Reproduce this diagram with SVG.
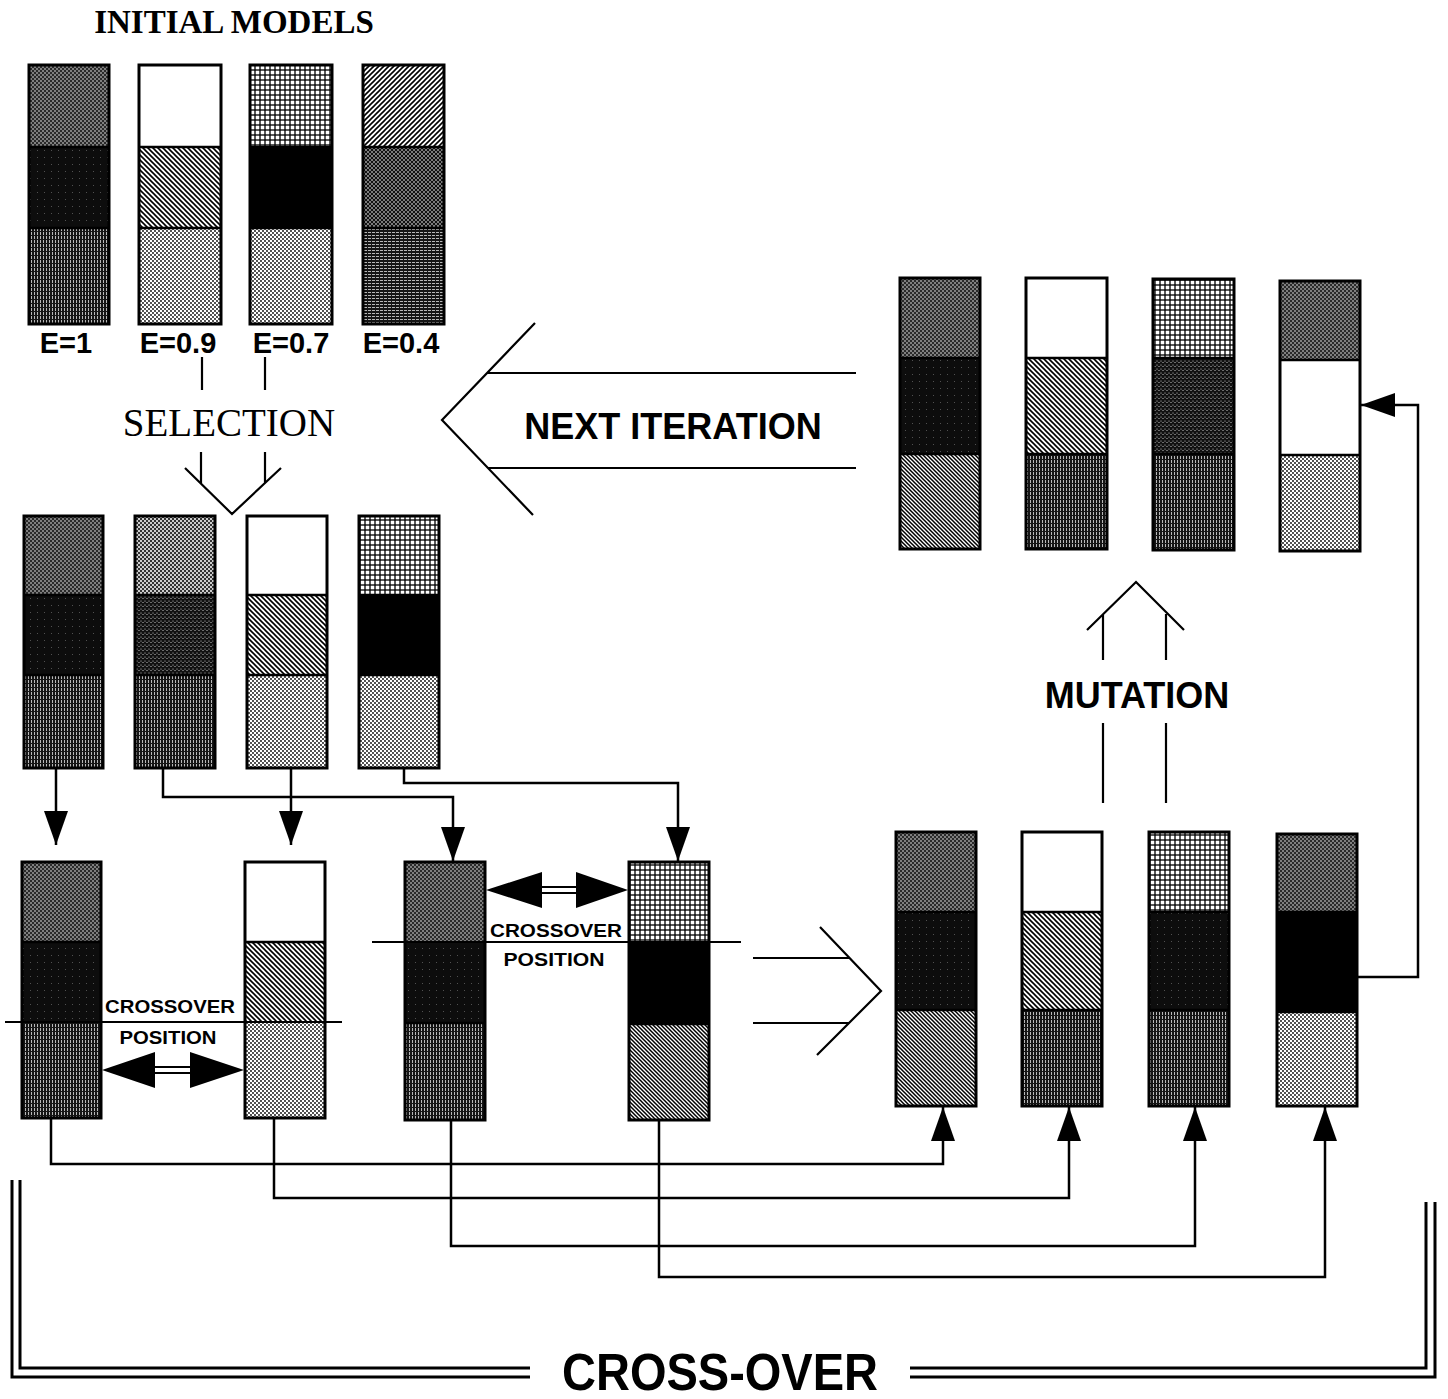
<svg xmlns="http://www.w3.org/2000/svg" width="1448" height="1399" viewBox="0 0 1448 1399">
<style>
.ol{fill:none;stroke:#000;stroke-width:3}
.dv{stroke:#000;stroke-width:2.5}
.cn{fill:none;stroke:#000;stroke-width:2.5}
.ln{fill:none;stroke:#000;stroke-width:2.2}
.br{fill:none;stroke:#000;stroke-width:3}
.sans{font-family:"Liberation Sans",Arial,sans-serif;font-weight:bold;fill:#000}
.serif{font-family:"Liberation Serif","Times New Roman",serif;fill:#000}
</style>
<defs>
<pattern id="pA" width="4" height="4" patternUnits="userSpaceOnUse"><rect width="4" height="4" fill="#2a2a2a"/><circle cx="1" cy="1" r="0.75" fill="#fff"/><circle cx="3" cy="3" r="0.75" fill="#fff"/></pattern>
<pattern id="pDM" width="4" height="4" patternUnits="userSpaceOnUse"><rect width="4" height="4" fill="#333"/><circle cx="1" cy="1" r="1" fill="#fff"/><circle cx="3" cy="3" r="1" fill="#fff"/></pattern>
<pattern id="pB" width="7" height="7" patternUnits="userSpaceOnUse"><rect width="7" height="7" fill="#0d0d0d"/><rect x="2" y="3" width="0.8" height="0.8" fill="#777"/></pattern>
<pattern id="pSP" width="4" height="4" patternUnits="userSpaceOnUse"><rect width="4" height="4" fill="#111"/><circle cx="1" cy="1" r="0.5" fill="#fff"/><circle cx="3" cy="2.6" r="0.5" fill="#fff"/></pattern>
<pattern id="pC" width="3" height="4" patternUnits="userSpaceOnUse"><rect width="3" height="4" fill="#151515"/><rect x="1" y="0" width="0.7" height="3" fill="#fff"/></pattern>
<pattern id="pHL" width="4" height="3" patternUnits="userSpaceOnUse"><rect width="4" height="3" fill="#151515"/><rect x="0" y="1" width="3" height="0.7" fill="#fff"/></pattern>
<pattern id="pHB" width="5" height="5" patternUnits="userSpaceOnUse"><rect width="5" height="5" fill="#fff"/><path d="M0,0L5,5M-1,4L1,6M4,-1L6,1" stroke="#000" stroke-width="1.6"/></pattern>
<pattern id="pHF" width="5" height="5" patternUnits="userSpaceOnUse"><rect width="5" height="5" fill="#fff"/><path d="M0,5L5,0M-1,1L1,-1M4,6L6,4" stroke="#000" stroke-width="1.6"/></pattern>
<pattern id="pHD" width="4" height="4" patternUnits="userSpaceOnUse"><rect width="4" height="4" fill="#fff"/><path d="M0,0L4,4M-1,3L1,5M3,-1L5,1" stroke="#000" stroke-width="1.5"/></pattern>
<pattern id="pDL" width="4" height="4" patternUnits="userSpaceOnUse"><rect width="4" height="4" fill="#fff"/><circle cx="1" cy="1" r="0.9" fill="#000"/><circle cx="3" cy="3" r="0.9" fill="#000"/></pattern>
<pattern id="pG" width="5" height="5" patternUnits="userSpaceOnUse"><rect width="5" height="5" fill="#000"/><rect x="0.65" y="0.65" width="3.7" height="3.7" fill="#fff"/></pattern>
<pattern id="pCD" width="4" height="4" patternUnits="userSpaceOnUse"><rect width="4" height="4" fill="#111"/><path d="M0,0L4,4M0,4L4,0" stroke="#fff" stroke-width="0.45"/></pattern>
<marker id="ah" markerUnits="userSpaceOnUse" markerWidth="34" markerHeight="24" refX="34" refY="12" orient="auto" viewBox="0 0 34 24"><path d="M0,0L34,12L0,24z" fill="#000"/></marker>
</defs>
<rect width="1448" height="1399" fill="#fff"/>

<text class="serif" x="234" y="33" font-size="33" font-weight="bold" text-anchor="middle">INITIAL MODELS</text>

<!-- Row 1: initial models -->
<g id="m1"><rect x="29" y="65" width="80" height="82" fill="url(#pA)"/><rect x="29" y="147" width="80" height="81" fill="url(#pB)"/><rect x="29" y="228" width="80" height="96" fill="url(#pC)"/><path class="dv" d="M29,147H109M29,228H109"/><rect class="ol" x="29" y="65" width="80" height="259"/></g>
<g id="m2"><rect x="139" y="65" width="82" height="82" fill="#fff"/><rect x="139" y="147" width="82" height="81" fill="url(#pHB)"/><rect x="139" y="228" width="82" height="96" fill="url(#pDL)"/><path class="dv" d="M139,147H221M139,228H221"/><rect class="ol" x="139" y="65" width="82" height="259"/></g>
<g id="m3"><rect x="250" y="65" width="82" height="82" fill="url(#pG)"/><rect x="250" y="147" width="82" height="81" fill="#000"/><rect x="250" y="228" width="82" height="96" fill="url(#pDL)"/><path class="dv" d="M250,147H332M250,228H332"/><rect class="ol" x="250" y="65" width="82" height="259"/></g>
<g id="m4"><rect x="363" y="65" width="81" height="82" fill="url(#pHF)"/><rect x="363" y="147" width="81" height="81" fill="url(#pCD)"/><rect x="363" y="228" width="81" height="96" fill="url(#pHL)"/><path class="dv" d="M363,147H444M363,228H444"/><rect class="ol" x="363" y="65" width="81" height="259"/></g>

<text class="sans" x="66" y="353" font-size="29" text-anchor="middle">E=1</text>
<text class="sans" x="178" y="353" font-size="29" text-anchor="middle">E=0.9</text>
<text class="sans" x="291" y="353" font-size="29" text-anchor="middle">E=0.7</text>
<text class="sans" x="401" y="353" font-size="29" text-anchor="middle">E=0.4</text>

<text class="serif" x="229" y="436" font-size="39" text-anchor="middle">SELECTION</text>
<text class="sans" x="673" y="439" font-size="36" text-anchor="middle">NEXT ITERATION</text>
<text class="sans" x="1137" y="708" font-size="36" text-anchor="middle">MUTATION</text>

<!-- Row 2: selected -->
<g id="s1"><rect x="24" y="516" width="79" height="79" fill="url(#pA)"/><rect x="24" y="595" width="79" height="80" fill="url(#pB)"/><rect x="24" y="675" width="79" height="93" fill="url(#pC)"/><path class="dv" d="M24,595H103M24,675H103"/><rect class="ol" x="24" y="516" width="79" height="252"/></g>
<g id="s2"><rect x="135" y="516" width="80" height="79" fill="url(#pDM)"/><rect x="135" y="595" width="80" height="80" fill="url(#pSP)"/><rect x="135" y="675" width="80" height="93" fill="url(#pC)"/><path class="dv" d="M135,595H215M135,675H215"/><rect class="ol" x="135" y="516" width="80" height="252"/></g>
<g id="s3"><rect x="247" y="516" width="80" height="79" fill="#fff"/><rect x="247" y="595" width="80" height="80" fill="url(#pHB)"/><rect x="247" y="675" width="80" height="93" fill="url(#pDL)"/><path class="dv" d="M247,595H327M247,675H327"/><rect class="ol" x="247" y="516" width="80" height="252"/></g>
<g id="s4"><rect x="359" y="516" width="80" height="79" fill="url(#pG)"/><rect x="359" y="595" width="80" height="80" fill="#000"/><rect x="359" y="675" width="80" height="93" fill="url(#pDL)"/><path class="dv" d="M359,595H439M359,675H439"/><rect class="ol" x="359" y="516" width="80" height="252"/></g>

<!-- Row 3: crossover pairs -->
<g id="c1"><rect x="22" y="862" width="79" height="80" fill="url(#pA)"/><rect x="22" y="942" width="79" height="80" fill="url(#pB)"/><rect x="22" y="1022" width="79" height="96" fill="url(#pC)"/><path class="dv" d="M22,942H101"/><rect class="ol" x="22" y="862" width="79" height="256"/></g>
<g id="c2"><rect x="245" y="862" width="80" height="80" fill="#fff"/><rect x="245" y="942" width="80" height="80" fill="url(#pHB)"/><rect x="245" y="1022" width="80" height="96" fill="url(#pDL)"/><path class="dv" d="M245,942H325"/><rect class="ol" x="245" y="862" width="80" height="256"/></g>
<g id="c3"><rect x="405" y="862" width="80" height="81" fill="url(#pA)"/><rect x="405" y="943" width="80" height="80" fill="url(#pB)"/><rect x="405" y="1023" width="80" height="97" fill="url(#pC)"/><path class="dv" d="M405,1023H485"/><rect class="ol" x="405" y="862" width="80" height="258"/></g>
<g id="c4"><rect x="629" y="862" width="80" height="80" fill="url(#pG)"/><rect x="629" y="942" width="80" height="82" fill="#000"/><rect x="629" y="1024" width="80" height="96" fill="url(#pHD)"/><path class="dv" d="M629,1024H709"/><rect class="ol" x="629" y="862" width="80" height="258"/></g>

<g id="xo-left">
<path class="ln" d="M5,1022H342"/>
<text class="sans" x="170" y="1013" font-size="19" text-anchor="middle" textLength="130" lengthAdjust="spacingAndGlyphs">CROSSOVER</text>
<text class="sans" x="168" y="1044" font-size="19" text-anchor="middle" textLength="97" lengthAdjust="spacingAndGlyphs">POSITION</text>
<polygon points="102,1070 155,1052 155,1088"/><polygon points="244,1070 190,1052 190,1088"/>
<path class="ln" d="M155,1067H190M155,1073H190" stroke-width="2"/>
</g>
<g id="xo-right">
<path class="ln" d="M372,942H741"/>
<text class="sans" x="556" y="937" font-size="19" text-anchor="middle" textLength="132" lengthAdjust="spacingAndGlyphs">CROSSOVER</text>
<text class="sans" x="554" y="966" font-size="19" text-anchor="middle" textLength="101" lengthAdjust="spacingAndGlyphs">POSITION</text>
<polygon points="486,890 542,872 542,908"/><polygon points="628,890 576,872 576,908"/>
<path class="ln" d="M542,887H576M542,893H576" stroke-width="2"/>
</g>

<!-- Row 4: crossover results -->
<g id="r1"><rect x="896" y="832" width="80" height="80" fill="url(#pA)"/><rect x="896" y="912" width="80" height="98" fill="url(#pB)"/><rect x="896" y="1010" width="80" height="96" fill="url(#pHD)"/><path class="dv" d="M896,912H976M896,1010H976"/><rect class="ol" x="896" y="832" width="80" height="274"/></g>
<g id="r2"><rect x="1022" y="832" width="80" height="80" fill="#fff"/><rect x="1022" y="912" width="80" height="98" fill="url(#pHB)"/><rect x="1022" y="1010" width="80" height="96" fill="url(#pC)"/><path class="dv" d="M1022,912H1102M1022,1010H1102"/><rect class="ol" x="1022" y="832" width="80" height="274"/></g>
<g id="r3"><rect x="1149" y="832" width="80" height="80" fill="url(#pG)"/><rect x="1149" y="912" width="80" height="98" fill="url(#pB)"/><rect x="1149" y="1010" width="80" height="96" fill="url(#pC)"/><path class="dv" d="M1149,912H1229M1149,1010H1229"/><rect class="ol" x="1149" y="832" width="80" height="274"/></g>
<g id="r4"><rect x="1277" y="834" width="80" height="78" fill="url(#pA)"/><rect x="1277" y="912" width="80" height="100" fill="#000"/><rect x="1277" y="1012" width="80" height="94" fill="url(#pDL)"/><path class="dv" d="M1277,912H1357M1277,1012H1357"/><rect class="ol" x="1277" y="834" width="80" height="272"/></g>

<!-- Top right: mutated -->
<g id="n1"><rect x="900" y="278" width="80" height="80" fill="url(#pA)"/><rect x="900" y="358" width="80" height="96" fill="url(#pB)"/><rect x="900" y="454" width="80" height="95" fill="url(#pHD)"/><path class="dv" d="M900,358H980M900,454H980"/><rect class="ol" x="900" y="278" width="80" height="271"/></g>
<g id="n2"><rect x="1026" y="278" width="81" height="80" fill="#fff"/><rect x="1026" y="358" width="81" height="96" fill="url(#pHB)"/><rect x="1026" y="454" width="81" height="95" fill="url(#pC)"/><path class="dv" d="M1026,358H1107M1026,454H1107"/><rect class="ol" x="1026" y="278" width="81" height="271"/></g>
<g id="n3"><rect x="1153" y="279" width="81" height="79" fill="url(#pG)"/><rect x="1153" y="358" width="81" height="96" fill="url(#pSP)"/><rect x="1153" y="454" width="81" height="96" fill="url(#pC)"/><path class="dv" d="M1153,358H1234M1153,454H1234"/><rect class="ol" x="1153" y="279" width="81" height="271"/></g>
<g id="n4"><rect x="1280" y="281" width="80" height="79" fill="url(#pA)"/><rect x="1280" y="360" width="80" height="95" fill="#fff"/><rect x="1280" y="455" width="80" height="96" fill="url(#pDL)"/><path class="dv" d="M1280,360H1360M1280,455H1360"/><rect class="ol" x="1280" y="281" width="80" height="270"/></g>

<!-- Connectors -->
<g id="connectors">
<path class="ln" d="M202,357V390M265,357V390M201,452V484M265,452V483M185,468L232,514L281,468"/>
<path class="ln" d="M535,323L442,420L533,515M487,373H856M488,468H856"/>
<path class="ln" d="M820,927L881,991L817,1055M753,958H850M753,1023H849"/>
<path class="ln" d="M1087,630L1136,582L1184,630M1103,614V660M1166,614V660M1103,723V803M1166,723V803"/>
<path class="cn" d="M56,768V845" marker-end="url(#ah)"/>
<path class="cn" d="M291,768V845" marker-end="url(#ah)"/>
<path class="cn" d="M163,768V797H453V861" marker-end="url(#ah)"/>
<path class="cn" d="M404,768V783H678V861" marker-end="url(#ah)"/>
<path class="cn" d="M51,1118V1164H943V1107" marker-end="url(#ah)"/>
<path class="cn" d="M274,1118V1198H1069V1107" marker-end="url(#ah)"/>
<path class="cn" d="M451,1120V1246H1195V1107" marker-end="url(#ah)"/>
<path class="cn" d="M659,1120V1277H1325V1107" marker-end="url(#ah)"/>
<path class="cn" d="M1357,977H1418V405H1361" marker-end="url(#ah)"/>
<path class="br" d="M12,1180V1377H530M20,1180V1368H530"/>
<path class="br" d="M910,1377H1435V1202M910,1368H1426V1202"/>
</g>
<text class="sans" x="720" y="1390" font-size="52" text-anchor="middle" textLength="316" lengthAdjust="spacingAndGlyphs">CROSS-OVER</text>
</svg>
